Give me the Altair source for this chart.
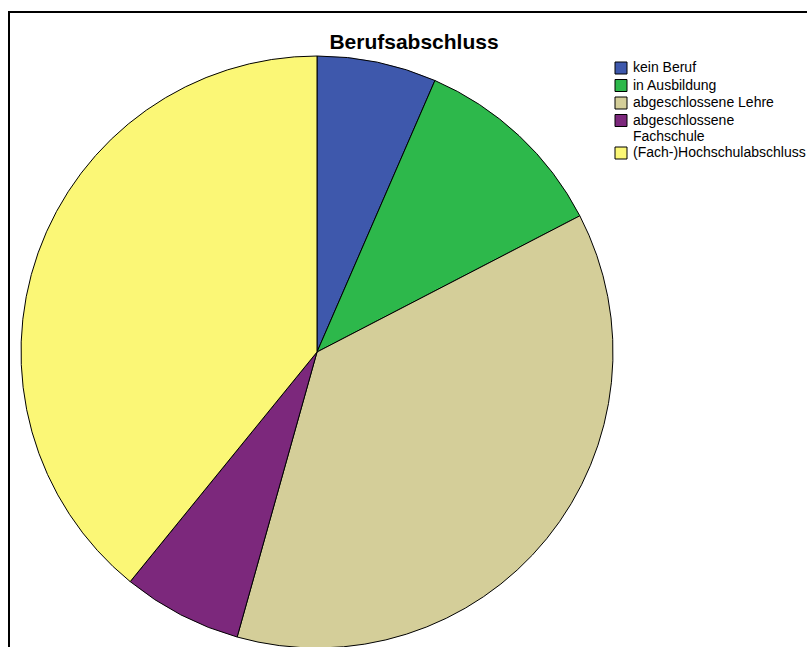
import altair as alt
import pandas as pd

categories = ["kein Beruf", "in Ausbildung", "abgeschlossene Lehre",
              "abgeschlossene Fachschule", "(Fach-)Hochschulabschluss"]
counts = [3, 5, 17, 3, 18]
colors = ["#3E58AC", "#2DB84B", "#D4CE99", "#7C287C", "#FBF776"]
title_text = ["Berufsabschluss"]

df = pd.DataFrame({"cat": categories, "count": counts, "idx": list(range(len(categories)))})

FONT = "Liberation Sans"

pie = alt.Chart(df).mark_arc(stroke="black", strokeWidth=1, outerRadius=296).encode(
    theta=alt.Theta("count:Q", stack=True),
    color=alt.Color(
        "cat:N",
        scale=alt.Scale(domain=categories, range=colors),
        sort=categories,
        legend=alt.Legend(
            title=None,
            orient="none",
            legendX=614,
            legendY=61,
            symbolType="square",
            symbolSize=144,
            symbolStrokeColor="black",
            symbolStrokeWidth=1,
            symbolOpacity=1,
            labelFont=FONT,
            labelFontSize=14,
            labelColor="black",
            labelOffset=5,
            rowPadding=1.5,
            labelLimit=400,
            labelExpr="datum.label == 'abgeschlossene Fachschule' ? ['abgeschlossene', 'Fachschule'] : datum.label",
        ),
    ),
    order=alt.Order("idx:Q"),
    x=alt.value(317),
    y=alt.value(352),
)

title = alt.Chart(pd.DataFrame({"t": title_text})).mark_text(
    font=FONT, fontSize=21, fontWeight="bold", color="black", baseline="alphabetic", align="center"
).encode(text="t:N", x=alt.value(414), y=alt.value(49))

frame_df = pd.DataFrame({"a": [0]})
left_line = alt.Chart(frame_df).mark_rule(color="black", strokeWidth=2).encode(
    x=alt.value(9), y=alt.value(12), y2=alt.value(700)
)
top_line = alt.Chart(frame_df).mark_rule(color="black", strokeWidth=2).encode(
    x=alt.value(8), x2=alt.value(900), y=alt.value(12)
)

chart = alt.layer(left_line, top_line, pie, title).properties(
    width=807, height=647, padding=0,
    autosize=alt.AutoSizeParams(type="none"),
    background="white",
).configure_view(stroke=None)

chart.save("out.html", embed_options={"renderer": "svg", "actions": False})
